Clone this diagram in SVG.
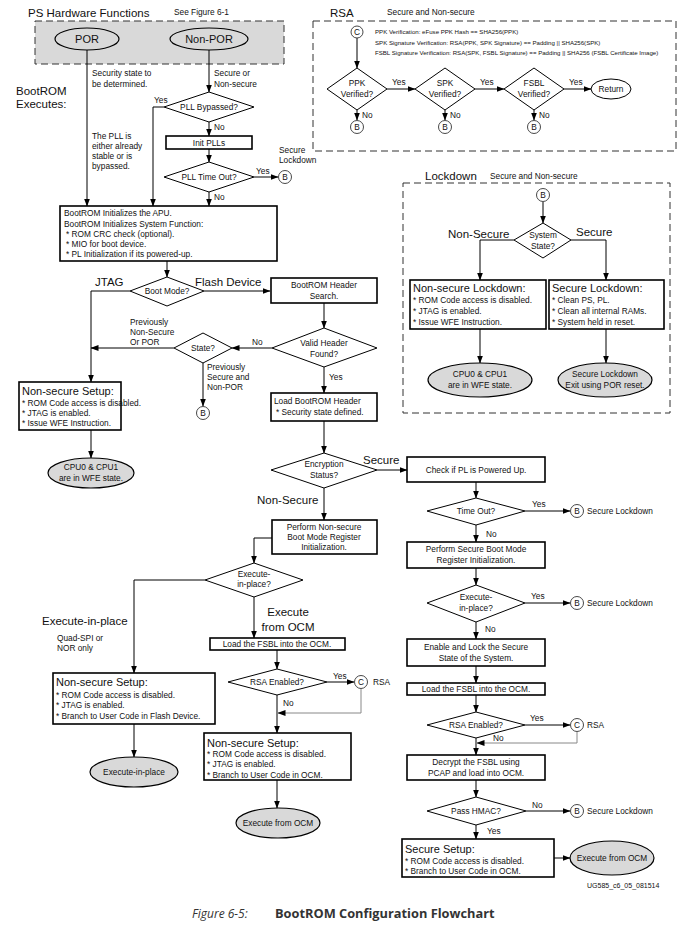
<svg xmlns="http://www.w3.org/2000/svg" width="692" height="927" viewBox="0 0 692 927">
<defs>
<marker id="ar" markerWidth="8" markerHeight="6" refX="7.5" refY="3" orient="auto" markerUnits="userSpaceOnUse"><path d="M0,0 L8,3 L0,6 z" fill="#000"/></marker>
<style>
text{font-family:"Liberation Sans",Arial,sans-serif;fill:#111;font-size:8.3px}
.m{text-anchor:middle}
.L{font-size:11.5px}
.H{font-size:11px}
.s{font-size:6.1px}
.u{font-size:7px}
.bx{fill:#fff;stroke:#000;stroke-width:1.6}
.dm{fill:#fff;stroke:#000;stroke-width:1}
.el{fill:#d9d9d9;stroke:#000;stroke-width:1.2}
.cc{fill:#fff;stroke:#333;stroke-width:0.9}
.ln{fill:none;stroke:#000;stroke-width:1;marker-end:url(#ar)}
.gr{fill:none;stroke:#888;stroke-width:1;marker-end:url(#ar)}
.dash{fill:none;stroke:#333;stroke-width:1;stroke-dasharray:7,4}
.cap{font-family:"Open Sans","Liberation Sans",sans-serif;font-size:12px;fill:#333}
.capb{font-family:"Open Sans","Liberation Sans",sans-serif;font-size:12.8px;font-weight:bold;fill:#333}
</style>
</defs>
<rect width="692" height="927" fill="#fff"/>

<!-- section frames and headings -->
<g id="ps-hw">
<text x="28" y="17" class="L">PS Hardware Functions</text>
<text x="174" y="15">See Figure 6-1</text>
<rect x="35" y="21" width="249" height="43" fill="#d9d9d9" stroke="#333" stroke-width="1" stroke-dasharray="7,4"/>
</g>
<g id="rsa-frame">
<text x="330" y="17" class="L">RSA</text>
<text x="387" y="15">Secure and Non-secure</text>
<rect x="313" y="21" width="363" height="130" class="dash"/>
<text x="375" y="34" class="s">PPK Verification: eFuse PPK Hash == SHA256(PPK)</text>
<text x="375" y="45" class="s">SPK Signature Verification: RSA(PPK, SPK Signature) == Padding || SHA256(SPK)</text>
<text x="375" y="55" class="s">FSBL Signature Verification: RSA(SPK, FSBL Signature) == Padding || SHA256 (FSBL Certificate Image)</text>
</g>
<g id="lockdown-frame">
<text x="425" y="180" class="L">Lockdown</text>
<text x="490" y="179">Secure and Non-secure</text>
<rect x="403" y="183" width="267" height="230" class="dash"/>
</g>
<text x="16" y="95" class="L">BootROM</text>
<text x="16" y="108" class="L">Executes:</text>

<!-- connectors -->
<g id="connectors">
<path class="ln" d="M87,50 V206"/>
<path class="ln" d="M209,50 V92"/>
<path class="ln" d="M164,107 H153 V206"/>
<path class="ln" d="M209,122 V136"/>
<path class="ln" d="M209,149 V162"/>
<path class="ln" d="M254,177 H278"/>
<path class="ln" d="M209,192 V206"/>
<path class="ln" d="M167,261 V277"/>
<path class="ln" d="M204,291 H270"/>
<path class="ln" d="M130,291 H91 V382"/>
<path class="ln" d="M324,303 V328"/>
<path class="ln" d="M272,348 H232"/>
<path class="ln" d="M174,348 H91"/>
<path class="ln" d="M203,363 V406"/>
<path class="ln" d="M324,367 V393"/>
<path class="ln" d="M91,430 V458"/>
<path class="ln" d="M324,421 V453"/>
<path class="ln" d="M377,470 H407"/>
<path class="ln" d="M476,482 V498"/>
<path class="ln" d="M525,511 H570"/>
<path class="ln" d="M476,525 V542"/>
<path class="ln" d="M324,488 V520"/>
<path class="ln" d="M272,538 H254 V563"/>
<path class="ln" d="M205,580 H134 V673"/>
<path class="ln" d="M134,724 V757"/>
<path class="ln" d="M254,597 V638"/>
<path class="ln" d="M277,650 V669"/>
<path class="ln" d="M327,682 H354"/>
<path class="gr" d="M361,689 V713 H278"/>
<path class="ln" d="M277,695 V733"/>
<path class="ln" d="M277,780 V808"/>
<path class="ln" d="M476,568 V585"/>
<path class="ln" d="M525,603 H570"/>
<path class="ln" d="M476,622 V639"/>
<path class="ln" d="M476,666 V683"/>
<path class="ln" d="M476,695 V712"/>
<path class="ln" d="M525,725 H570"/>
<path class="gr" d="M577,732 V743 H477"/>
<path class="ln" d="M476,738 V755"/>
<path class="ln" d="M476,780 V797"/>
<path class="ln" d="M526,811 H570"/>
<path class="ln" d="M476,825 V839"/>
<path class="ln" d="M554,858 H570"/>
<path class="ln" d="M543,202 V223"/>
<path class="ln" d="M514,240 H480 V280"/>
<path class="ln" d="M571,240 H606 V280"/>
<path class="ln" d="M480,329 V363"/>
<path class="ln" d="M606,329 V363"/>
<path class="ln" d="M357,38 V68"/>
<path class="ln" d="M387,89 H415"/>
<path class="ln" d="M475,89 H504"/>
<path class="ln" d="M564,89 H591"/>
<path class="ln" d="M357,110 V120"/>
<path class="ln" d="M445,110 V120"/>
<path class="ln" d="M534,110 V120"/>
</g>

<!-- connector labels -->
<g id="labels">
<text x="92" y="76">Security state to</text>
<text x="92" y="87">be determined.</text>
<text x="214" y="76">Secure or</text>
<text x="214" y="87">Non-secure</text>
<text x="154" y="103">Yes</text>
<text x="214" y="130">No</text>
<text x="92" y="139">The PLL is</text>
<text x="92" y="149">either already</text>
<text x="92" y="159">stable or is</text>
<text x="92" y="169">bypassed.</text>
<text x="279" y="153">Secure</text>
<text x="279" y="163">Lockdown</text>
<text x="256" y="174">Yes</text>
<text x="214" y="200">No</text>
<text x="95" y="286" class="L">JTAG</text>
<text x="195" y="286" class="L">Flash Device</text>
<text x="252" y="345">No</text>
<text x="130" y="325">Previously</text>
<text x="130" y="335">Non-Secure</text>
<text x="130" y="345">Or POR</text>
<text x="207" y="370">Previously</text>
<text x="207" y="380">Secure and</text>
<text x="207" y="390">Non-POR</text>
<text x="329" y="380">Yes</text>
<text x="363" y="464" class="L">Secure</text>
<text x="257" y="504" class="L">Non-Secure</text>
<text x="532" y="507">Yes</text>
<text x="587" y="514">Secure Lockdown</text>
<text x="486" y="537">No</text>
<text x="42" y="625" class="L">Execute-in-place</text>
<text x="57" y="641">Quad-SPI or</text>
<text x="57" y="651">NOR only</text>
<text x="288" y="616" class="L m">Execute</text>
<text x="288" y="631" class="L m">from OCM</text>
<text x="333" y="679">Yes</text>
<text x="373" y="685">RSA</text>
<text x="283" y="706">No</text>
<text x="531" y="599">Yes</text>
<text x="587" y="606">Secure Lockdown</text>
<text x="485" y="632">No</text>
<text x="530" y="721">Yes</text>
<text x="587" y="728">RSA</text>
<text x="493" y="741">No</text>
<text x="532" y="808">No</text>
<text x="587" y="814">Secure Lockdown</text>
<text x="487" y="834">Yes</text>
<text x="448" y="238" class="L">Non-Secure</text>
<text x="576" y="236" class="L">Secure</text>
<text x="392" y="85">Yes</text>
<text x="480" y="85">Yes</text>
<text x="569" y="85">Yes</text>
<text x="362" y="118">No</text>
<text x="450" y="118">No</text>
<text x="539" y="118">No</text>
<text x="587" y="888" class="u">UG585_c6_05_081514</text>
</g>

<!-- nodes -->
<g id="por"><ellipse cx="87" cy="39" rx="32" ry="11" class="el"/><text x="87" y="43" class="H m">POR</text></g>
<g id="nonpor"><ellipse cx="209" cy="39" rx="39" ry="11" class="el"/><text x="209" y="43" class="H m">Non-POR</text></g>
<g id="pll-bypassed"><polygon points="209,92 254,107 209,122 164,107" class="dm"/><text x="209" y="110" class="m">PLL Bypassed?</text></g>
<g id="init-plls"><rect x="166" y="136" width="86" height="13" class="bx"/><text x="209" y="145.5" class="m">Init PLLs</text></g>
<g id="pll-timeout"><polygon points="209,162 254,177 209,192 164,177" class="dm"/><text x="209" y="180" class="m">PLL Time Out?</text></g>
<g id="b1"><circle cx="285" cy="177" r="6.5" class="cc"/><text x="285" y="180" class="m">B</text></g>
<g id="bootrom-init"><rect x="60" y="206" width="217" height="55" class="bx"/>
<text x="64" y="216">BootROM Initializes the APU.</text>
<text x="64" y="227">BootROM Initializes System Function:</text>
<text x="66" y="237">* ROM CRC check (optional).</text>
<text x="66" y="247">* MIO for boot device.</text>
<text x="66" y="257">* PL Initialization if its powered-up.</text></g>
<g id="boot-mode"><polygon points="167,277 204,291 167,306 130,291" class="dm"/><text x="167" y="294" class="m">Boot Mode?</text></g>
<g id="header-search"><rect x="271" y="278" width="106" height="25" class="bx"/><text x="324" y="288" class="m">BootROM Header</text><text x="324" y="299" class="m">Search.</text></g>
<g id="valid-header"><polygon points="324,328 377,348 324,367 272,348" class="dm"/><text x="324" y="346" class="m">Valid Header</text><text x="324" y="357" class="m">Found?</text></g>
<g id="state"><polygon points="203,333 232,348 203,363 174,348" class="dm"/><text x="203" y="351" class="m">State?</text></g>
<g id="b2"><circle cx="203" cy="413" r="6.5" class="cc"/><text x="203" y="416" class="m">B</text></g>
<g id="ns-setup-jtag"><rect x="19" y="382" width="102" height="48" class="bx"/>
<text x="22" y="395" class="H">Non-secure Setup:</text>
<text x="22" y="406">* ROM Code access is disabled.</text>
<text x="22" y="416">* JTAG is enabled.</text>
<text x="22" y="426">* Issue WFE Instruction.</text></g>
<g id="wfe-left"><ellipse cx="91" cy="473" rx="43" ry="15" class="el"/><text x="91" y="470" class="m">CPU0 &amp; CPU1</text><text x="91" y="481" class="m">are in WFE state.</text></g>
<g id="load-header"><rect x="271" y="393" width="106" height="28" class="bx"/><text x="274" y="404">Load BootROM Header</text><text x="276" y="415">* Security state defined.</text></g>
<g id="encryption"><polygon points="324,453 377,470 324,488 271,470" class="dm"/><text x="324" y="467" class="m">Encryption</text><text x="324" y="478" class="m">Status?</text></g>
<g id="check-pl"><rect x="407" y="457" width="138" height="25" class="bx"/><text x="476" y="473" class="m">Check if PL is Powered Up.</text></g>
<g id="timeout"><polygon points="476,498 525,511 476,525 427,511" class="dm"/><text x="476" y="514" class="m">Time Out?</text></g>
<g id="b3"><circle cx="577" cy="511" r="6.5" class="cc"/><text x="577" y="514" class="m">B</text></g>
<g id="ns-bootmode"><rect x="272" y="520" width="105" height="34" class="bx"/><text x="324" y="530" class="m">Perform Non-secure</text><text x="324" y="540" class="m">Boot Mode Register</text><text x="324" y="550" class="m">Initialization.</text></g>
<g id="xip-ns"><polygon points="254,563 303,580 254,597 205,580" class="dm"/><text x="254" y="577" class="m">Execute-</text><text x="254" y="587" class="m">in-place?</text></g>
<g id="ns-setup-flash"><rect x="53" y="673" width="162" height="51" class="bx"/>
<text x="56" y="686" class="H">Non-secure Setup:</text>
<text x="56" y="698">* ROM Code access is disabled.</text>
<text x="56" y="708">* JTAG is enabled.</text>
<text x="56" y="719">* Branch to User Code in Flash Device.</text></g>
<g id="xip-end"><ellipse cx="134" cy="772" rx="44" ry="15" class="el"/><text x="134" y="775" class="m">Execute-in-place</text></g>
<g id="load-fsbl-ns"><rect x="210" y="638" width="135" height="12" class="bx"/><text x="277" y="647" class="m">Load the FSBL into the OCM.</text></g>
<g id="rsa-ns"><polygon points="277,669 327,682 277,695 228,682" class="dm"/><text x="277" y="685" class="m">RSA Enabled?</text></g>
<g id="c1"><circle cx="361" cy="682" r="6.5" class="cc"/><text x="361" y="685" class="m">C</text></g>
<g id="ns-setup-ocm"><rect x="204" y="733" width="147" height="47" class="bx"/>
<text x="207" y="747" class="H">Non-secure Setup:</text>
<text x="207" y="757">* ROM Code access is disabled.</text>
<text x="207" y="767">* JTAG is enabled.</text>
<text x="207" y="778">* Branch to User Code in OCM.</text></g>
<g id="ocm-ns"><ellipse cx="278" cy="823" rx="42" ry="15" class="el"/><text x="278" y="826" class="m">Execute from OCM</text></g>
<g id="s-bootmode"><rect x="407" y="542" width="138" height="26" class="bx"/><text x="476" y="552" class="m">Perform Secure Boot Mode</text><text x="476" y="563" class="m">Register Initialization.</text></g>
<g id="xip-s"><polygon points="476,585 525,603 476,622 427,603" class="dm"/><text x="476" y="600" class="m">Execute-</text><text x="476" y="611" class="m">in-place?</text></g>
<g id="b4"><circle cx="577" cy="603" r="6.5" class="cc"/><text x="577" y="606" class="m">B</text></g>
<g id="enable-lock"><rect x="407" y="639" width="138" height="27" class="bx"/><text x="476" y="650" class="m">Enable and Lock the Secure</text><text x="476" y="661" class="m">State of the System.</text></g>
<g id="load-fsbl-s"><rect x="407" y="683" width="138" height="12" class="bx"/><text x="476" y="692" class="m">Load the FSBL into the OCM.</text></g>
<g id="rsa-s"><polygon points="476,712 525,725 476,738 427,725" class="dm"/><text x="476" y="728" class="m">RSA Enabled?</text></g>
<g id="c2"><circle cx="577" cy="725" r="6.5" class="cc"/><text x="577" y="728" class="m">C</text></g>
<g id="decrypt"><rect x="407" y="755" width="138" height="25" class="bx"/><text x="476" y="765" class="m">Decrypt the FSBL using</text><text x="476" y="776" class="m">PCAP and load into OCM.</text></g>
<g id="hmac"><polygon points="476,797 526,811 476,825 427,811" class="dm"/><text x="476" y="814" class="m">Pass HMAC?</text></g>
<g id="b5"><circle cx="577" cy="811" r="6.5" class="cc"/><text x="577" y="814" class="m">B</text></g>
<g id="s-setup"><rect x="402" y="839" width="152" height="38" class="bx"/>
<text x="405" y="853" class="H">Secure Setup:</text>
<text x="405" y="864">* ROM Code access is disabled.</text>
<text x="405" y="874">* Branch to User Code in OCM.</text></g>
<g id="ocm-s"><ellipse cx="612" cy="858" rx="42" ry="17" class="el"/><text x="612" y="861" class="m">Execute from OCM</text></g>

<g id="ld-b"><circle cx="543" cy="195" r="6.5" class="cc"/><text x="543" y="198" class="m">B</text></g>
<g id="sys-state"><polygon points="543,223 571,240 543,258 514,240" class="dm"/><text x="543" y="238" class="m">System</text><text x="543" y="249" class="m">State?</text></g>
<g id="ns-lockdown"><rect x="410" y="280" width="136" height="49" class="bx"/>
<text x="413" y="292" class="H">Non-secure Lockdown:</text>
<text x="413" y="303">* ROM Code access is disabled.</text>
<text x="413" y="314">* JTAG is enabled.</text>
<text x="413" y="325">* Issue WFE Instruction.</text></g>
<g id="s-lockdown"><rect x="549" y="280" width="115" height="49" class="bx"/>
<text x="552" y="292" class="H">Secure Lockdown:</text>
<text x="552" y="303">* Clean PS, PL.</text>
<text x="552" y="314">* Clean all internal RAMs.</text>
<text x="552" y="325">* System held in reset.</text></g>
<g id="wfe-ld"><ellipse cx="480" cy="380" rx="52" ry="17" class="el"/><text x="480" y="377" class="m">CPU0 &amp; CPU1</text><text x="480" y="388" class="m">are in WFE state.</text></g>
<g id="por-exit"><ellipse cx="605" cy="380" rx="47" ry="17" class="el"/><text x="605" y="377" class="m">Secure Lockdown</text><text x="605" y="388" class="m">Exit using POR reset.</text></g>

<g id="rsa-c"><circle cx="357" cy="32" r="6" class="cc"/><text x="357" y="35" class="m">C</text></g>
<g id="ppk"><polygon points="357,68 387,89 357,110 327,89" class="dm"/><text x="357" y="86" class="m">PPK</text><text x="357" y="97" class="m">Verified?</text></g>
<g id="spk"><polygon points="445,68 475,89 445,110 415,89" class="dm"/><text x="445" y="86" class="m">SPK</text><text x="445" y="97" class="m">Verified?</text></g>
<g id="fsbl"><polygon points="534,68 564,89 534,110 504,89" class="dm"/><text x="534" y="86" class="m">FSBL</text><text x="534" y="97" class="m">Verified?</text></g>
<g id="return"><ellipse cx="611" cy="89" rx="20" ry="10" class="dm" stroke-width="1.2"/><text x="611" y="92" class="m">Return</text></g>
<g id="rb1"><circle cx="357" cy="127" r="6.5" class="cc"/><text x="357" y="130" class="m">B</text></g>
<g id="rb2"><circle cx="445" cy="127" r="6.5" class="cc"/><text x="445" y="130" class="m">B</text></g>
<g id="rb3"><circle cx="534" cy="127" r="6.5" class="cc"/><text x="534" y="130" class="m">B</text></g>

<g id="caption">
<text x="192" y="918" class="cap" font-style="italic">Figure 6-5:</text>
<text x="275" y="918" class="capb">BootROM Configuration Flowchart</text>
</g>
</svg>
